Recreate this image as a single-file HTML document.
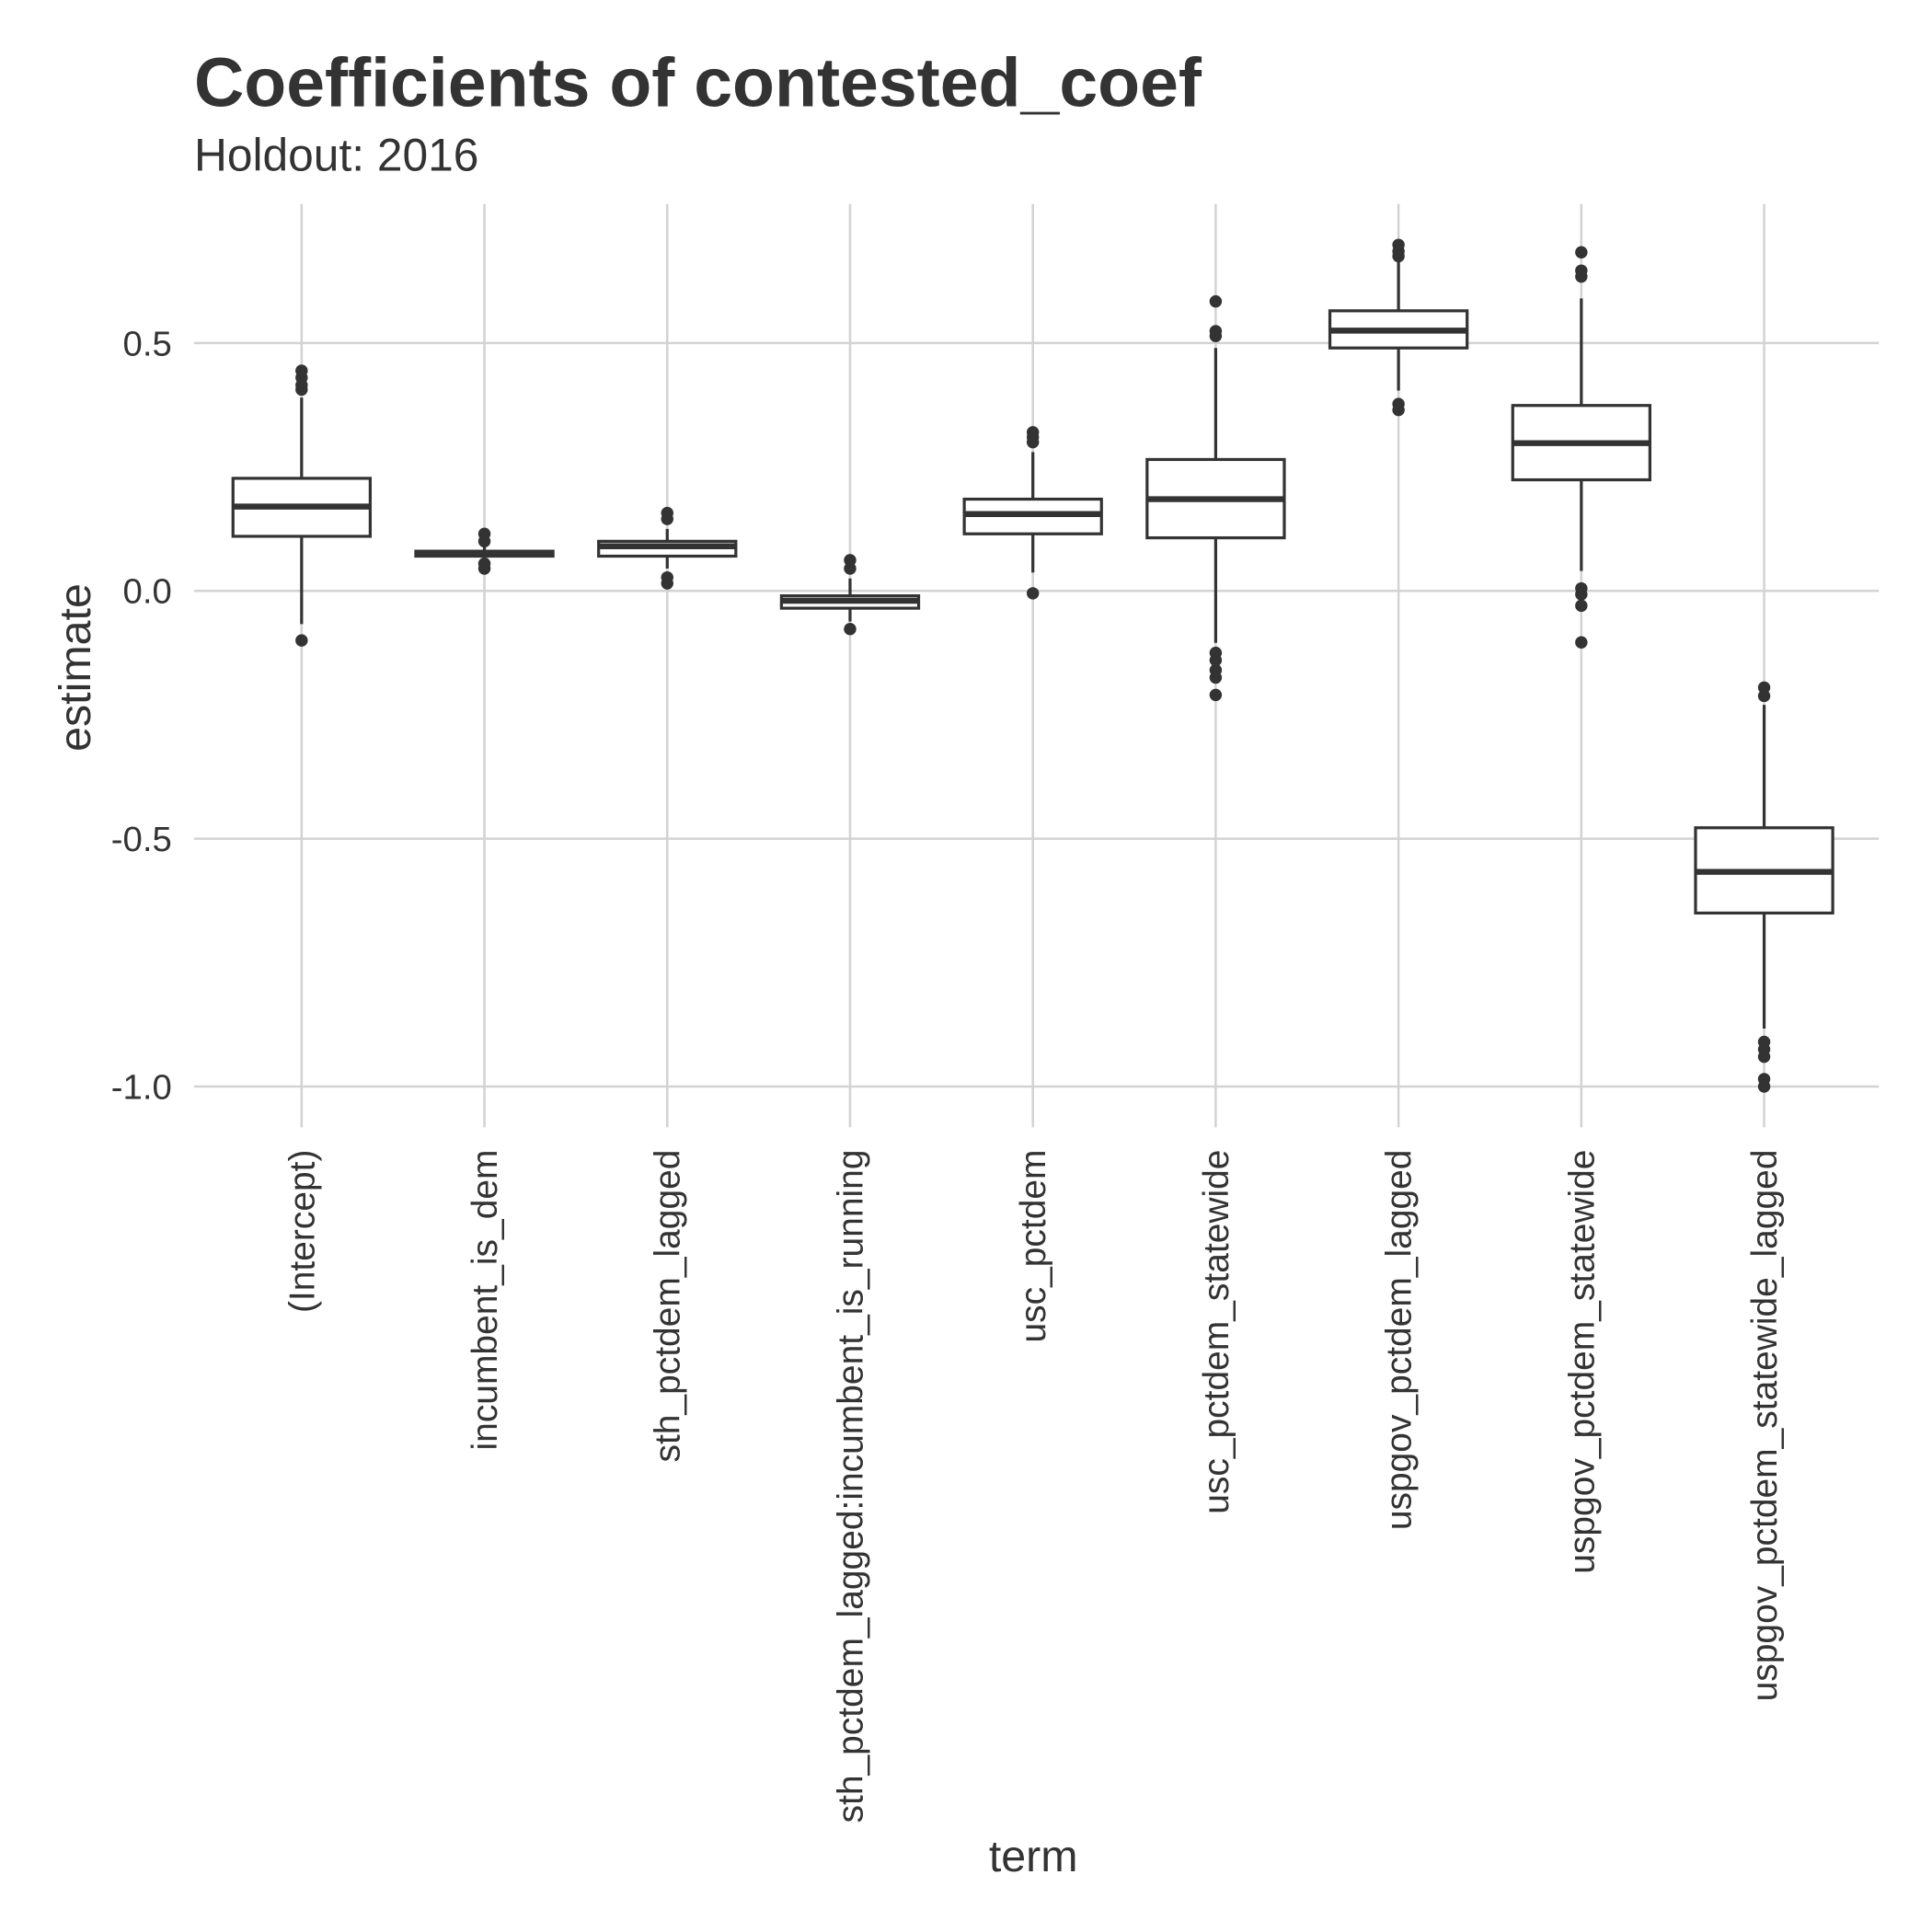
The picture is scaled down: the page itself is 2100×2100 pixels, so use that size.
<!DOCTYPE html>
<html><head><meta charset="utf-8"><style>
html,body{margin:0;padding:0;background:#fff;}
svg{display:block;font-family:"Liberation Sans",Arial,sans-serif;}
</style></head><body>
<svg id="chart" width="2100" height="2100" viewBox="0 0 1563 1563" xmlns="http://www.w3.org/2000/svg">
<rect width="1563" height="1563" fill="#fff"/>
<text x="157" y="86" font-size="56" font-weight="bold" fill="#333">Coefficients of contested_coef</text>
<text x="157" y="138" font-size="37" fill="#333">Holdout: 2016</text>
<g id="grid"></g><g id="marks"></g><g id="labels"></g>
<text transform="translate(73,540) rotate(-90)" text-anchor="middle" font-size="36" fill="#333">estimate</text>
<text x="836" y="1514" text-anchor="middle" font-size="36" fill="#333">term</text>
</svg>
<script>
const categories=["(Intercept)","incumbent_is_dem","sth_pctdem_lagged","sth_pctdem_lagged:incumbent_is_running","usc_pctdem","usc_pctdem_statewide","uspgov_pctdem_lagged","uspgov_pctdem_statewide","uspgov_pctdem_statewide_lagged"];
const q1=[0.11,0.07,0.07,-0.035,0.115,0.107,0.49,0.224,-0.65];
const medians=[0.17,0.075,0.09,-0.02,0.155,0.185,0.525,0.298,-0.567];
const q3=[0.227,0.08,0.1,-0.01,0.185,0.265,0.565,0.374,-0.478];
const whiskerLow=[-0.067,0.06,0.045,-0.062,0.037,-0.105,0.404,0.04,-0.883];
const whiskerHigh=[0.39,0.095,0.125,0.025,0.28,0.49,0.663,0.59,-0.23];
const outliers=[[0.444,0.43,0.406,0.415,-0.10],[0.115,0.10,0.055,0.045],[0.157,0.145,0.027,0.015],[0.062,0.045,-0.077],[0.32,0.31,0.3,-0.005],[0.584,0.524,0.514,-0.125,-0.14,-0.16,-0.175,-0.21],[0.698,0.685,0.675,0.377,0.365],[0.683,0.646,0.634,0.005,-0.007,-0.03,-0.104],[-0.195,-0.212,-0.91,-0.925,-0.94,-0.985,-1.0]];
const yTicks=[0.5,0.0,-0.5,-1.0];
const yTickLabels=["0.5","0.0","-0.5","-1.0"];

const NS="http://www.w3.org/2000/svg";
const y=v=>478-401*v;
const x=i=>244+147.9*i;
const bw=111;
function mk(tag,attrs,parent){const e=document.createElementNS(NS,tag);for(const k in attrs)e.setAttribute(k,attrs[k]);parent.appendChild(e);return e;}
const grid=document.getElementById('grid'),marks=document.getElementById('marks'),labels=document.getElementById('labels');
yTicks.forEach((t,i)=>{
  const l=mk('line',{x1:157,x2:1520,y1:y(t),y2:y(t),stroke:'#d3d3d3','stroke-width':1.9},grid);
  
  
  const tx=mk('text',{x:139,y:y(t)+10,'text-anchor':'end','font-size':28.5,fill:'#333'},labels);
  tx.textContent=yTickLabels[i];
  
  
});
categories.forEach((c,i)=>{
  const l=mk('line',{x1:x(i),x2:x(i),y1:165,y2:912,stroke:'#d3d3d3','stroke-width':1.9},grid);
  
  
  const tx=mk('text',{transform:`translate(${x(i)+10},930) rotate(-90)`,'text-anchor':'end','font-size':29,fill:'#333'},labels);
  tx.textContent=c;
  
  
  const g=mk('g',{},marks);
  
  
  mk('line',{x1:x(i),x2:x(i),y1:y(whiskerHigh[i]),y2:y(q3[i]),stroke:'#333','stroke-width':2.4},g);
  mk('line',{x1:x(i),x2:x(i),y1:y(q1[i]),y2:y(whiskerLow[i]),stroke:'#333','stroke-width':2.4},g);
  mk('rect',{x:x(i)-bw/2,y:y(q3[i]),width:bw,height:Math.max(0.5,y(q1[i])-y(q3[i])),fill:'#fff',stroke:'#333','stroke-width':2.4},g);
  mk('line',{x1:x(i)-bw/2,x2:x(i)+bw/2,y1:y(medians[i]),y2:y(medians[i]),stroke:'#333','stroke-width':4.8},g);
  outliers[i].forEach(v=>{
    const p=mk('circle',{cx:x(i),cy:y(v),r:5,fill:'#333'},g);
    
    
  });
});
</script>
</body></html>
